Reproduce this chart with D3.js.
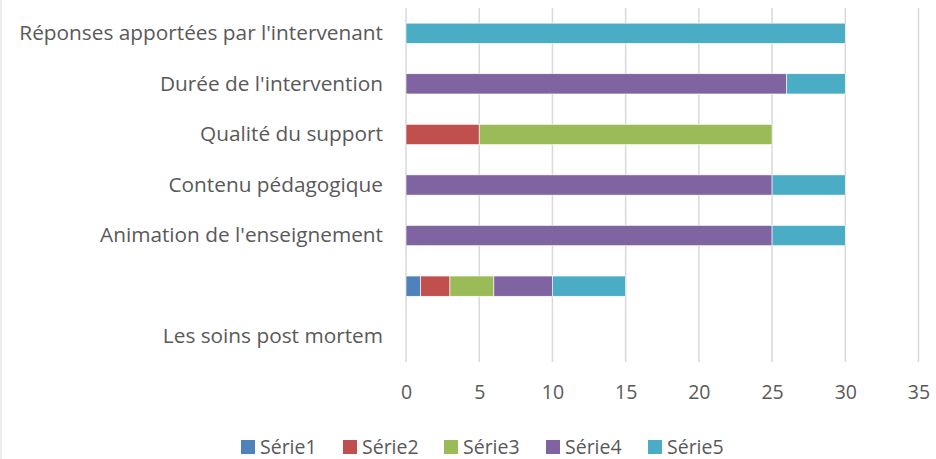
<!DOCTYPE html>
<html>
<head>
<meta charset="utf-8">
<script src="https://cdn.jsdelivr.net/npm/d3@7"></script>
<style>
  body { margin: 0; background: #fff; }
  svg text { font-family: "Open Sans", sans-serif; fill: #595959; }
</style>
</head>
<body>
<div id="chart"></div>
<script>
(function(){
  var width = 936;
  var height = 459;

  // data, top to bottom
  var categories = ["Réponses apportées par l'intervenant", "Durée de l'intervention",
    "Qualité du support", "Contenu pédagogique", "Animation de l'enseignement", "",
    "Les soins post mortem"];
  var seriesNames = ['Série1', 'Série2', 'Série3', 'Série4', 'Série5'];
  var serie1 = [0, 0, 0, 0, 0, 1, 0];
  var serie2 = [0, 0, 5, 0, 0, 2, 0];
  var serie3 = [0, 0, 20, 0, 0, 3, 0];
  var serie4 = [0, 26, 0, 25, 25, 4, 0];
  var serie5 = [30, 4, 0, 5, 5, 5, 0];
  var xTicks = [0, 5, 10, 15, 20, 25, 30, 35];
  var colors = ['#4f81bd', '#c0504d', '#9bbb59', '#8064a2', '#4bacc6'];

  var allSeries = [serie1, serie2, serie3, serie4, serie5];
  var rows = categories.map(function(c, i){
    var r = { key: i, cat: c };
    seriesNames.forEach(function(s, j){ r[s] = allSeries[j][i]; });
    return r;
  });

  var svg = d3.select('#chart').append('svg')
                .attr('width', width)
                .attr('height', height);

  // chart frame edge on the left
  svg.append('line')
    .attr('x1', 1).attr('x2', 1).attr('y1', 0).attr('y2', height)
    .attr('stroke', '#d9d9d9').attr('stroke-width', 1);

  var x = d3.scaleLinear().domain([0, 35]).range([406, 918.5]);
  var y = d3.scaleBand().domain(d3.range(categories.length)).range([8, 362]).paddingInner(0.6).paddingOuter(0.3);

  // vertical gridlines
  svg.append('g').selectAll('line')
    .data(xTicks)
    .enter()
    .append('line')
      .attr('x1', function(d){ return x(d); })
      .attr('x2', function(d){ return x(d); })
      .attr('y1', 8)
      .attr('y2', 362)
      .attr('stroke', '#d9d9d9')
      .attr('stroke-width', 1.5);

  // stacked bars
  var stack = d3.stack().keys(seriesNames)(rows);
  svg.append('g').selectAll('g')
    .data(stack)
    .enter()
    .append('g')
      .attr('fill', function(d, i){ return colors[i]; })
    .selectAll('rect')
    .data(function(d){ return d.filter(function(p){ return p[1] > p[0]; }); })
    .enter()
    .append('rect')
      .attr('x', function(d){ return x(d[0]); })
      .attr('y', function(d){ return y(d.data.key); })
      .attr('width', function(d){ return x(d[1]) - x(d[0]); })
      .attr('height', y.bandwidth())
      .attr('stroke', '#fff')
      .attr('stroke-width', 0.6);

  // x axis labels
  var xAxis = d3.axisBottom(x).tickValues(xTicks).tickSize(0).tickPadding(0);
  var gx = svg.append('g').attr('transform', 'translate(0,385)').call(xAxis);
  gx.select('.domain').remove();
  gx.selectAll('text')
    .attr('font-size', '19.5px')
    .attr('dy', '0.71em')
    .style('font-family', '"Open Sans", sans-serif')
    .attr('fill', '#595959');

  // category labels
  var yAxis = d3.axisLeft(y).tickFormat(function(i){ return categories[i]; }).tickSize(0).tickPadding(0);
  var gy = svg.append('g').attr('transform', 'translate(383,0)').call(yAxis);
  gy.select('.domain').remove();
  gy.selectAll('text')
    .attr('font-size', '20.8px')
    .style('font-family', '"Open Sans", sans-serif')
    .attr('fill', '#595959');

  // legend
  var legendX = [241, 343, 444, 546, 648];
  var lg = svg.append('g').selectAll('g')
    .data(seriesNames)
    .enter()
    .append('g')
      .attr('transform', function(d, i){ return 'translate(' + legendX[i] + ',440)'; });
  lg.append('rect')
    .attr('width', 14).attr('height', 14)
    .attr('fill', function(d, i){ return colors[i]; });
  lg.append('text')
    .attr('x', 19).attr('y', 7).attr('dy', '0.35em')
    .attr('font-size', '19.5px')
    .text(function(d){ return d; });
})()
</script>
</body>
</html>
